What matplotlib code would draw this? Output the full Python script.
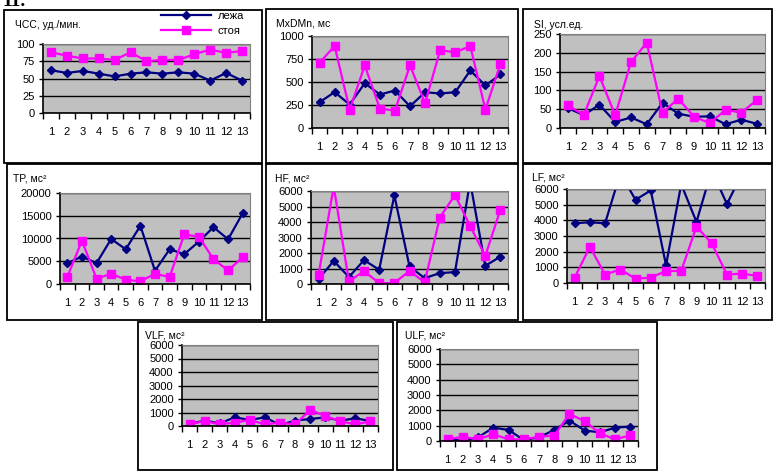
import numpy as np
import matplotlib.pyplot as plt
from matplotlib.patches import Rectangle

plt.rcParams['font.family'] = ['Liberation Sans', 'DejaVu Sans']

W, H = 774, 473

# номера обследуемых
cats = np.arange(1, 14)
labels = ['лежа', 'стоя']

# ЧСС, уд./мин.
hr_lying = [62, 58, 61, 57, 53, 57, 59, 57, 59, 57, 47, 58, 47]
hr_stand = [88, 83, 79, 79, 77, 88, 75, 77, 77, 85, 92, 87, 90]
# MxDMn, мс
mx_lying = [280, 390, 255, 487, 364, 407, 236, 389, 375, 389, 625, 462, 582]
mx_stand = [709, 891, 200, 680, 211, 189, 680, 269, 847, 822, 891, 200, 698]
# SI, усл.ед.
si_lying = [53, 34, 62, 16, 28, 10, 67, 38, 30, 31, 10, 22, 11]
si_stand = [61, 34, 138, 34, 175, 227, 41, 78, 30, 13, 48, 41, 75]
# TP, мс2
tp_lying = [4580, 6040, 4580, 9890, 7640, 12800, 2900, 7640, 6550, 9310, 12500, 9820, 15560]
tp_stand = [1530, 9530, 1160, 2250, 950, 580, 2250, 1530, 10900, 10400, 5450, 2980, 5890]
# HF, мс2
hf_lying = [320, 1490, 450, 1540, 920, 5720, 1130, 380, 700, 770, 6600, 1170, 1770]
hf_stand = [600, 6300, 170, 830, 60, 60, 850, 110, 4290, 5740, 3740, 1810, 4800]
# LF, мс2
lf_lying = [3810, 3880, 3810, 7000, 5310, 5910, 1140, 6300, 3900, 7200, 5040, 7000, 7500]
lf_stand = [340, 2310, 540, 860, 280, 340, 770, 770, 3600, 2530, 540, 600, 450]
# VLF, мс2
vlf_lying = [150, 400, 200, 640, 450, 640, 75, 400, 520, 640, 400, 570, 370]
vlf_stand = [120, 370, 120, 250, 450, 120, 250, 120, 1190, 740, 350, 120, 350]
# ULF, мс2
ulf_lying = [110, 20, 240, 870, 720, 65, 240, 720, 1330, 680, 570, 870, 940]
ulf_stand = [110, 280, 110, 440, 110, 110, 280, 350, 1770, 1290, 500, 110, 370]

fig = plt.figure(figsize=(W / 100, H / 100), dpi=100)
fig.patch.set_facecolor('white')


def fx(x):
    return x / W


def fy(y):
    return 1 - y / H


def box(x0, y0, x1, y1):
    fig.add_artist(Rectangle((fx(x0), fy(y1)), fx(x1 - x0), (y1 - y0) / H,
                             transform=fig.transFigure, fill=False,
                             ec='black', lw=1.3))


def panel(rect, ly, sy, ymax, step, title, tpos):
    x0, y0, x1, y1 = rect
    ax = fig.add_axes([fx(x0), fy(y1), fx(x1 - x0), (y1 - y0) / H])
    ax.set_facecolor('#c0c0c0')
    ax.plot(cats, ly, color='#000080', marker='D', ms=4, lw=1.6, label=labels[0])
    ax.plot(cats, sy, color='#ff00ff', marker='s', ms=5.5, lw=1.6, label=labels[1])
    ax.set_xlim(0.5, 13.5)
    ax.set_ylim(0, ymax)
    ax.set_yticks(np.arange(0, ymax + 1, step))
    ax.yaxis.grid(True, color='black', lw=1)
    ax.set_axisbelow(True)
    # засечки между категориями, подписи по центру
    ax.set_xticks(np.arange(0.5, 14, 1))
    ax.set_xticklabels([])
    ax.set_xticks(cats, minor=True)
    ax.set_xticklabels([str(c) for c in cats], minor=True)
    ax.tick_params(axis='x', which='major', length=4, direction='out', width=1)
    ax.tick_params(axis='x', which='minor', length=0, pad=10, labelsize=8)
    ax.tick_params(axis='y', length=3, direction='out', width=1, pad=3, labelsize=8)
    for s in ['top', 'right']:
        ax.spines[s].set_color('#808080')
    for s in ['left', 'bottom']:
        ax.spines[s].set_color('black')
        ax.spines[s].set_linewidth(1.2)
    fig.text(fx(tpos[0]), fy(tpos[1]), title, fontsize=7.5, va='center', ha='left')
    return ax


# рамки диаграмм
box(4, 10, 262, 163)
box(266, 9, 518, 163)
box(523, 9, 772, 163)
box(7, 164, 262, 320)
box(266, 164, 518, 320)
box(523, 164, 772, 320)
box(138, 322, 393, 470)
box(397, 322, 657, 470)

ax1 = panel((43, 44, 250, 113), hr_lying, hr_stand, 100, 25, 'ЧСС, уд./мин.', (15, 25))
panel((312, 36, 508, 128), mx_lying, mx_stand, 1000, 250, 'MxDMn, мс', (276, 24))
panel((560, 34, 765, 128), si_lying, si_stand, 250, 50, 'SI, усл.ед.', (534, 25))
panel((60, 193, 250, 284), tp_lying, tp_stand, 20000, 5000, 'TP, мс²', (13, 178))
panel((311, 191, 508, 284), hf_lying, hf_stand, 6000, 1000, 'HF, мс²', (275, 178))
panel((567, 189, 765, 283), lf_lying, lf_stand, 6000, 1000, 'LF, мс²', (532, 177))
panel((182, 345, 378, 426), vlf_lying, vlf_stand, 6000, 1000, 'VLF, мс²', (145, 335))
panel((440, 349, 638, 441), ulf_lying, ulf_stand, 6000, 1000, 'ULF, мс²', (405, 335))

h, l = ax1.get_legend_handles_labels()
fig.legend(h, l, loc='upper left', bbox_to_anchor=(fx(161), fy(11)),
           frameon=False, fontsize=8, handlelength=4.5, handletextpad=0.6,
           labelspacing=0.45, borderpad=0, borderaxespad=0)

# номер рисунка, обрезанный верхним краем
fig.text(fx(2), fy(1), '11.', fontsize=14, fontweight='bold',
         family='Liberation Serif', va='center', ha='left')

fig.savefig('out.png', dpi=100)
